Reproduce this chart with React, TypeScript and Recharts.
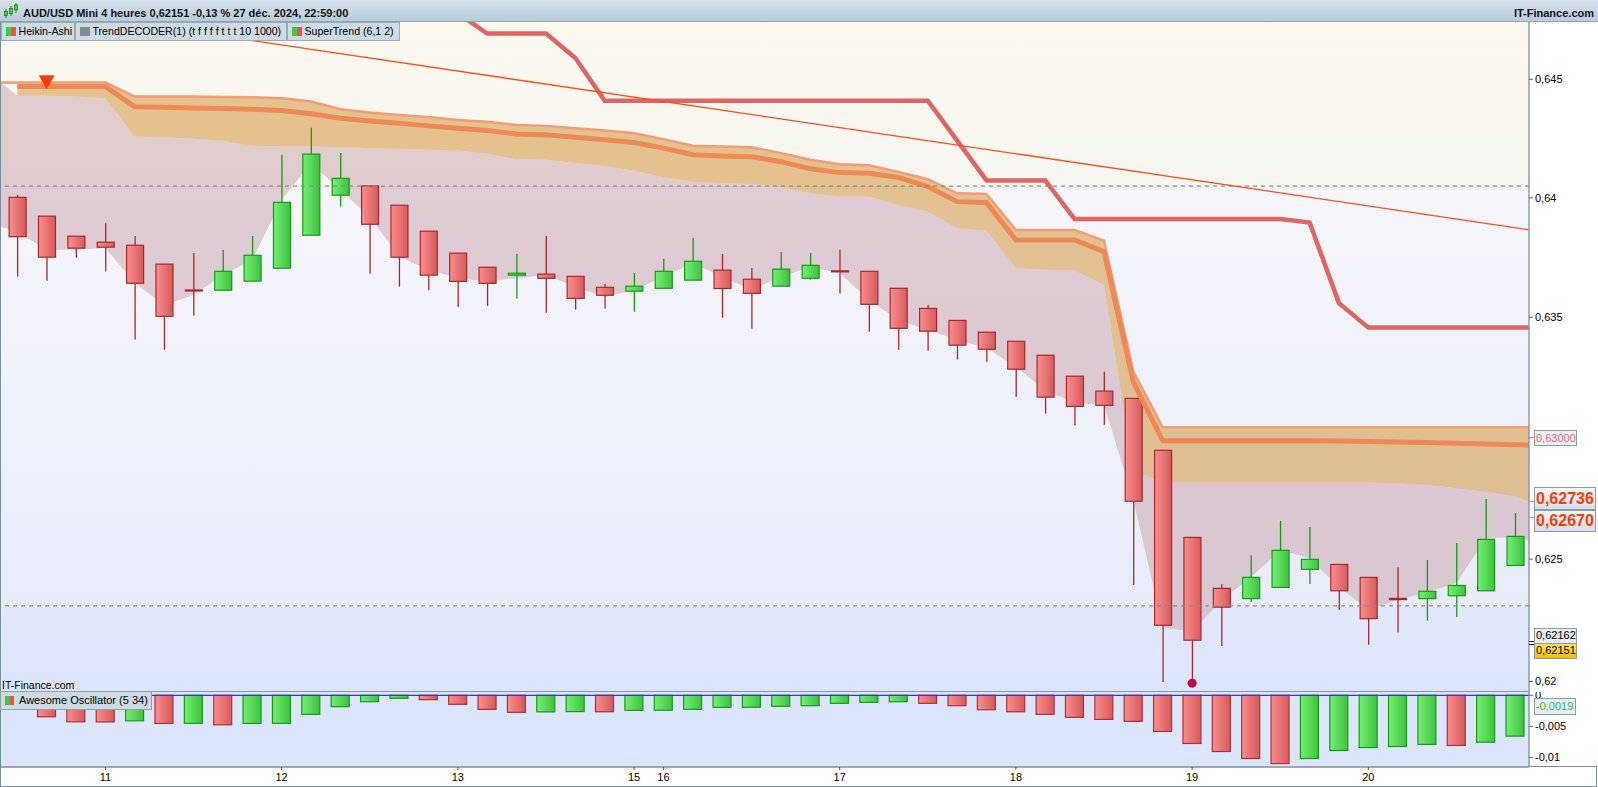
import React from "react";
import {
  Area,
  Bar,
  ComposedChart,
  Line,
  ReferenceDot,
  ReferenceLine,
  XAxis,
  YAxis,
} from "recharts";

// slot 0 is the bar just off the left edge, the last slot just off the right edge
const FIRST_INDEX = -1;

const HA_OPEN = [
  null,
  0.64002, 0.63923, 0.63839, 0.63814, 0.63801, 0.63722, 0.63614, 0.63613, 0.63651, 0.63705,
  0.63843, 0.64011, 0.6405, 0.63969, 0.6386, 0.63768, 0.63709, 0.63676, 0.6368, 0.63671,
  0.63625, 0.63609, 0.63621, 0.63655, 0.63697, 0.63659, 0.6363, 0.63663, 0.63694, 0.63692,
  0.63621, 0.63537, 0.63487, 0.63438, 0.634, 0.63342, 0.63255, 0.63193, 0.63163, 0.62948,
  0.62589, 0.6238, 0.62338, 0.62384, 0.62458, 0.62478, 0.62425, 0.62339, 0.62338, 0.6235,
  0.6237, 0.62474,
  null,
];
const HA_CLOSE = [
  null,
  0.63837, 0.63751, 0.63789, 0.63793, 0.63642, 0.63504, 0.63611, 0.63692, 0.63759, 0.63981,
  0.64184, 0.64082, 0.63889, 0.63751, 0.63676, 0.6365, 0.63642, 0.63684, 0.63663, 0.63579,
  0.63592, 0.6363, 0.63692, 0.63734, 0.6362, 0.636, 0.63701, 0.63717, 0.63691, 0.63554,
  0.63454, 0.63442, 0.63384, 0.63367, 0.63284, 0.63168, 0.6313, 0.63134, 0.62738, 0.62229,
  0.62168, 0.62303, 0.62425, 0.62536, 0.62499, 0.6237, 0.62256, 0.62334, 0.62368, 0.62392,
  0.62581, 0.62593,
  null,
];
const HA_HIGH = [
  null,
  0.64012, 0.63923, 0.63839, 0.63893, 0.6384, 0.63722, 0.63769, 0.63782, 0.6384, 0.64181,
  0.64295, 0.64189, 0.6405, 0.63969, 0.6386, 0.63768, 0.63709, 0.63765, 0.6384, 0.63671,
  0.63639, 0.63685, 0.63744, 0.63832, 0.63765, 0.63706, 0.63773, 0.63769, 0.63782, 0.63692,
  0.63621, 0.63551, 0.63487, 0.63438, 0.634, 0.63342, 0.63255, 0.63273, 0.63163, 0.62948,
  0.62589, 0.62397, 0.62516, 0.62657, 0.62632, 0.62478, 0.62425, 0.62467, 0.62496, 0.62566,
  0.62747, 0.62689,
  null,
];
const HA_LOW = [
  null,
  0.6367, 0.63653, 0.63749, 0.63691, 0.63407, 0.63365, 0.63507, 0.63613, 0.63651, 0.63705,
  0.63843, 0.63963, 0.63682, 0.63628, 0.63613, 0.63544, 0.63548, 0.63578, 0.63519, 0.63532,
  0.63536, 0.63523, 0.63621, 0.63655, 0.63498, 0.63453, 0.6363, 0.63657, 0.63599, 0.6344,
  0.63365, 0.63361, 0.63324, 0.63315, 0.6317, 0.631, 0.6305, 0.63054, 0.62394, 0.61998,
  0.62005, 0.62144, 0.62325, 0.62384, 0.62398, 0.62292, 0.62149, 0.62199, 0.62248, 0.62263,
  0.6237, 0.62474,
  null,
];

// TrendDECODER band
const BAND_TOP = [
  0.64486,
  0.64486, 0.64486, 0.64486, 0.64486, 0.64427, 0.64427, 0.64427, 0.64425, 0.64424, 0.6442,
  0.64406, 0.64373, 0.64359, 0.64349, 0.6434, 0.64328, 0.6432, 0.64307, 0.64303, 0.64293,
  0.64283, 0.64272, 0.64247, 0.64219, 0.64216, 0.64213, 0.64188, 0.6416, 0.64141, 0.64137,
  0.64109, 0.64078, 0.64019, 0.64016, 0.63865, 0.63865, 0.63865, 0.6382, 0.63274, 0.63043,
  0.63043, 0.63043, 0.63043, 0.63043, 0.63043, 0.63043, 0.63043, 0.63043, 0.63043, 0.63043,
  0.63043, 0.63043,
  0.63043,
];
const BAND_MID = [
  null,
  0.64469, 0.64469, 0.64469, 0.64469, 0.64384, 0.64382, 0.64379, 0.64376, 0.64373, 0.64368,
  0.64354, 0.64335, 0.64324, 0.64314, 0.64303, 0.64293, 0.64283, 0.64269, 0.64265, 0.64255,
  0.64244, 0.64233, 0.64209, 0.64181, 0.64176, 0.64173, 0.64152, 0.64122, 0.64106, 0.64103,
  0.64086, 0.64047, 0.63984, 0.6398, 0.63823, 0.63823, 0.63823, 0.63774, 0.6323, 0.62987,
  0.62987, 0.62987, 0.62987, 0.62987, 0.62987, 0.62986, 0.62984, 0.62982, 0.6298, 0.62977,
  0.62974, 0.62971,
  0.62967,
];
const BAND_BASE = [
  0.64529,
  0.6443, 0.6443, 0.64427, 0.6442, 0.64258, 0.64255, 0.64249, 0.6424, 0.64219, 0.64216,
  0.64216, 0.64213, 0.6421, 0.64207, 0.64202, 0.64199, 0.64185, 0.64162, 0.6416, 0.64146,
  0.64134, 0.64114, 0.64087, 0.64068, 0.64061, 0.64058, 0.64044, 0.64019, 0.64005, 0.64005,
  0.6397, 0.63942, 0.63872, 0.63862, 0.63705, 0.63698, 0.63695, 0.63635, 0.62867, 0.62814,
  0.62814, 0.62814, 0.62814, 0.62814, 0.62814, 0.62814, 0.62814, 0.62812, 0.62805, 0.62791,
  0.62777, 0.62757,
  0.62712,
];
const CLOUD_LOW = [
  0.63895,
  0.63857, 0.63782, 0.63782, 0.6379, 0.63643, 0.63551, 0.63593, 0.63677, 0.6374, 0.63991,
  0.64146, 0.64033, 0.63921, 0.63754, 0.63698, 0.63664, 0.63648, 0.63664, 0.63677, 0.63627,
  0.63585, 0.63614, 0.63669, 0.63727, 0.63669, 0.63614, 0.63669, 0.6371, 0.63685, 0.63572,
  0.63489, 0.63447, 0.63406, 0.63372, 0.63293, 0.63198, 0.63144, 0.63136, 0.62743, 0.62222,
  0.62202, 0.62332, 0.62426, 0.62537, 0.62504, 0.62386, 0.62292, 0.62332, 0.62365, 0.62402,
  0.62586, 0.62591,
  0.62557,
];

const SUPERTREND = [
  null,
  null, null, null, null, null, null, null, null, null, null,
  null, null, null, null, null, 0.6478, 0.64694, 0.64694, 0.64694, 0.6459,
  0.64409, 0.64409, 0.64409, 0.64409, 0.64409, 0.64409, 0.64409, 0.64409, 0.64409, 0.64409,
  0.64409, 0.64409, 0.64241, 0.64073, 0.64073, 0.64073, 0.63911, 0.63911, 0.63911, 0.63911,
  0.63911, 0.63911, 0.63911, 0.63911, 0.63896, 0.63559, 0.63457, 0.63457, 0.63457, 0.63457,
  0.63457, 0.63457,
  0.63457,
];

// Awesome Oscillator (5 34)
const AO_VALUES = [
  null,
  -0.0021, -0.00345, -0.00426, -0.00428, -0.0041, -0.00452, -0.0045, -0.00474, -0.00452, -0.0045,
  -0.00306, -0.00183, -0.00103, -0.00048, -0.0007, -0.00145, -0.00226, -0.00274, -0.00266, -0.00262,
  -0.00264, -0.00242, -0.0024, -0.00226, -0.00194, -0.00192, -0.00177, -0.00167, -0.00129, -0.00113,
  -0.00103, -0.00129, -0.00167, -0.00232, -0.00264, -0.00306, -0.00355, -0.00387, -0.00419, -0.00581,
  -0.00774, -0.00903, -0.01016, -0.01097, -0.01016, -0.00887, -0.00839, -0.00823, -0.0079, -0.00806,
  -0.00753, -0.00656,
  null,
];
const AO_TONE = [
  null,
  "R", "R", "R", "R", "G", "R", "G", "R", "G", "G",
  "G", "G", "G", "G", "R", "R", "R", "R", "G", "G",
  "R", "G", "G", "G", "G", "G", "G", "G", "G", "G",
  "G", "R", "R", "R", "R", "R", "R", "R", "R", "R",
  "R", "R", "R", "R", "G", "G", "G", "G", "G", "R",
  "G", "G",
  null,
];

const PRICE_TICKS = [0.62, 0.625, 0.63, 0.635, 0.64, 0.645];
const AO_TICKS = [0, -0.005, -0.01];
const X_TICKS = [3, 9, 15, 21, 22, 28, 34, 40, 46];
const X_TICK_LABELS = ["11", "12", "13", "15", "16", "17", "18", "19", "20"];
const ZONE_LEVELS = [0.64049, 0.62308];
const TREND_START = { i: 4, price: 0.64738 };
const TREND_END = { i: 51.46, price: 0.63866 };
const SELL_SIGNALS = [{ i: 1, price: 0.645 }];
const LOW_SIGNALS = [{ i: 40, price: 0.61993 }];

const X_DOMAIN: [number, number] = [-0.555, 51.47];
const PRICE_DOMAIN: [number, number] = [0.61957, 0.64743];
const AO_DOMAIN: [number, number] = [-0.01152, 0.00053];

const rows = HA_OPEN.map((open, k) => ({
  i: k + FIRST_INDEX,
  open,
  close: HA_CLOSE[k],
  high: HA_HIGH[k],
  low: HA_LOW[k],
  range: open == null ? null : [HA_LOW[k], HA_HIGH[k]],
  tan: BAND_MID[k] == null ? null : [BAND_BASE[k], BAND_TOP[k]],
  cloud: [CLOUD_LOW[k], BAND_BASE[k]],
  top: BAND_TOP[k],
  mid: BAND_MID[k],
  st: SUPERTREND[k],
  ao: AO_VALUES[k],
  tone: AO_TONE[k],
}));

const FONT = '"Liberation Sans", Arial, sans-serif';
const fmt = (v: number) => String(v).replace(".", ",");

function CandleShape(props: any) {
  const { x, y, width, height, payload } = props;
  if (!payload || payload.open == null) return null;
  const { open, close, high, low } = payload;
  const top = Math.min(y, y + height);
  const span = Math.abs(height);
  const lnH = Math.log(high);
  const lnL = Math.log(low);
  // the price axis is logarithmic, so place open/close in log space
  const toY = (v: number) =>
    lnH === lnL ? top : top + (span * (lnH - Math.log(v))) / (lnH - lnL);
  const up = close > open;
  const cx = x + width / 2;
  const bodyTop = toY(Math.max(open, close));
  const bodyBot = toY(Math.min(open, close));
  const stroke = up ? "#169a16" : "#a8282a";
  return (
    <g>
      <line x1={cx} x2={cx} y1={top} y2={top + span} stroke={stroke} strokeWidth={1.3} />
      <rect
        x={x + 0.5}
        y={bodyTop}
        width={width - 1}
        height={Math.max(bodyBot - bodyTop, 1)}
        fill={up ? "url(#haGreen)" : "url(#haRed)"}
        stroke={stroke}
        strokeWidth={1.2}
      />
    </g>
  );
}

function AoShape(props: any) {
  const { x, y, width, height, payload } = props;
  if (!payload || payload.ao == null) return null;
  const top = Math.min(y, y + height);
  const up = payload.tone === "G";
  return (
    <rect
      x={x + 0.5}
      y={top}
      width={width - 1}
      height={Math.abs(height)}
      fill={up ? "url(#aoGreen)" : "url(#aoRed)"}
      stroke={up ? "#169a16" : "#b03034"}
      strokeWidth={1.2}
    />
  );
}

function SellMarker(props: any) {
  const { cx, cy } = props;
  return (
    <polygon
      points={`${cx - 8},${cy - 4} ${cx + 8},${cy - 4} ${cx},${cy + 10}`}
      fill="#ff3d00"
    />
  );
}

const box = (extra: React.CSSProperties): React.CSSProperties => ({
  position: "absolute",
  boxSizing: "border-box",
  border: "1px solid #8a9bab",
  fontFamily: FONT,
  whiteSpace: "nowrap",
  ...extra,
});

function LegendIcon({ left, right }: { left: string; right: string }) {
  return (
    <span
      style={{
        position: "absolute",
        left: 4,
        top: 4,
        width: 10,
        height: 9,
        background: `linear-gradient(to right, ${left} 50%, ${right} 50%)`,
      }}
    />
  );
}

function Tag({ left, width, text, icon }: { left: number; width: number; text: string; icon: React.ReactNode }) {
  return (
    <div
      style={box({
        left,
        top: 22,
        width,
        height: 19,
        background: "#cddbe4",
        border: "1px solid #9aabb7",
        fontSize: 10.6,
        lineHeight: "17px",
        paddingLeft: 16.5,
        color: "#000",
      })}
    >
      {icon}
      {text}
    </div>
  );
}

export default function App() {
  const axisTick = { fontSize: 11, fill: "#000", fontFamily: FONT };
  return (
    <div
      style={{
        position: "relative",
        width: 1598,
        height: 787,
        background: "#fff",
        overflow: "hidden",
        fontFamily: FONT,
      }}
    >
      <style>{"body{margin:0}"}</style>
      <svg width={0} height={0} style={{ position: "absolute" }}>
        <defs>
          <linearGradient id="haRed" x1="0" y1="0" x2="1" y2="0">
            <stop offset="0%" stopColor="#fb8e8e" />
            <stop offset="100%" stopColor="#d55a5c" />
          </linearGradient>
          <linearGradient id="haGreen" x1="0" y1="0" x2="1" y2="0">
            <stop offset="0%" stopColor="#74ef74" />
            <stop offset="100%" stopColor="#3ec23e" />
          </linearGradient>
          <linearGradient id="aoRed" x1="0" y1="0" x2="1" y2="0">
            <stop offset="0%" stopColor="#fb8e8e" />
            <stop offset="100%" stopColor="#d55a5c" />
          </linearGradient>
          <linearGradient id="aoGreen" x1="0" y1="0" x2="1" y2="0">
            <stop offset="0%" stopColor="#74ef74" />
            <stop offset="100%" stopColor="#3ec23e" />
          </linearGradient>
        </defs>
      </svg>

      {/* panel backgrounds */}
      <div
        style={{
          position: "absolute",
          left: 1,
          top: 22,
          width: 1528,
          height: 670,
          background:
            "linear-gradient(to bottom, #fcf9ef 0%, #f7f6f1 24.4%, #f6f6fb 24.5%, #e8ecf9 87.2%, #e3e8fb 87.3%, #dce4fc 100%)",
        }}
      />
      <div style={{ position: "absolute", left: 1, top: 692, width: 1528, height: 75, background: "#dbe5fc" }} />

      <div style={{ position: "absolute", left: 0, top: 22 }}>
        <ComposedChart width={1598} height={670} data={rows} margin={{ top: 0, right: 0, bottom: 0, left: 1 }}>
          <XAxis dataKey="i" type="number" domain={X_DOMAIN} allowDataOverflow hide />
          <YAxis
            orientation="right"
            width={69}
            scale="log"
            domain={PRICE_DOMAIN}
            allowDataOverflow
            ticks={PRICE_TICKS}
            interval={0}
            tickFormatter={fmt}
            tick={axisTick}
            tickSize={4}
            tickMargin={2}
            axisLine={{ stroke: "#7f8f9c", strokeWidth: 1.3 }}
            tickLine={{ stroke: "#666" }}
          />
          <Area dataKey="cloud" type="linear" stroke="none" fill="rgba(200,160,170,0.5)" fillOpacity={1} isAnimationActive={false} />
          <Area dataKey="tan" type="linear" stroke="none" fill="rgba(214,150,62,0.55)" fillOpacity={1} isAnimationActive={false} />
          <Line dataKey="top" type="linear" stroke="#f39c76" strokeWidth={2.5} dot={false} isAnimationActive={false} />
          <Line dataKey="mid" type="linear" stroke="#ec8955" strokeWidth={5} dot={false} isAnimationActive={false} />
          {ZONE_LEVELS.map((lvl) => (
            <ReferenceLine key={lvl} y={lvl} stroke="#8a8a8a" strokeWidth={1.2} strokeDasharray="4 4" />
          ))}
          <Line dataKey="st" type="linear" stroke="#df6464" strokeWidth={4.5} dot={false} isAnimationActive={false} />
          <ReferenceLine
            segment={[
              { x: TREND_START.i, y: TREND_START.price },
              { x: TREND_END.i, y: TREND_END.price },
            ]}
            stroke="#ff4d1a"
            strokeWidth={1.3}
            ifOverflow="visible"
          />
          <Bar dataKey="range" barSize={18} shape={(p: any) => <CandleShape {...p} />} isAnimationActive={false} />
          {SELL_SIGNALS.map((s) => (
            <ReferenceDot key={s.i} x={s.i} y={s.price} r={8} shape={(p: any) => <SellMarker {...p} />} />
          ))}
          {LOW_SIGNALS.map((s) => (
            <ReferenceDot key={s.i} x={s.i} y={s.price} r={4.5} fill="#c2004e" stroke="none" />
          ))}
        </ComposedChart>
      </div>

      <div style={{ position: "absolute", left: 0, top: 692 }}>
        <ComposedChart width={1598} height={95} data={rows} margin={{ top: 0, right: 0, bottom: 0, left: 1 }}>
          <XAxis
            dataKey="i"
            type="number"
            domain={X_DOMAIN}
            allowDataOverflow
            ticks={X_TICKS}
            interval={0}
            tickFormatter={(v: number) => X_TICK_LABELS[X_TICKS.indexOf(v)]}
            height={20}
            tickSize={3}
            tickMargin={3}
            tick={axisTick}
            axisLine={{ stroke: "#7f8f9c", strokeWidth: 1.3 }}
            tickLine={{ stroke: "#555" }}
          />
          <YAxis
            orientation="right"
            width={69}
            domain={AO_DOMAIN}
            allowDataOverflow
            ticks={AO_TICKS}
            interval={0}
            tickFormatter={fmt}
            tick={axisTick}
            tickSize={4}
            tickMargin={2}
            axisLine={{ stroke: "#7f8f9c", strokeWidth: 1.3 }}
            tickLine={{ stroke: "#666" }}
          />
          <Bar dataKey="ao" barSize={19} shape={(p: any) => <AoShape {...p} />} isAnimationActive={false} />
          <ReferenceLine y={0} stroke="#3434c8" strokeWidth={1.3} />
        </ComposedChart>
      </div>

      {/* frame lines */}
      <div style={{ position: "absolute", left: 0, top: 22, width: 1, height: 765, background: "#7d8f9d" }} />
      <div style={{ position: "absolute", left: 0, top: 691, width: 1529, height: 1, background: "#8797a5" }} />
      <div style={{ position: "absolute", left: 1529, top: 766, width: 68, height: 1, background: "#7f8f9c" }} />
      <div style={{ position: "absolute", left: 1596, top: 766, width: 1, height: 21, background: "#7f8f9c" }} />
      <div style={{ position: "absolute", left: 0, top: 786, width: 1597, height: 1, background: "#7f8f9c" }} />

      {/* header */}
      <div
        style={{
          position: "absolute",
          left: 0,
          top: 0,
          width: 1598,
          height: 22,
          boxSizing: "border-box",
          background: "linear-gradient(to bottom, #d7e4ed, #b8ccd9)",
          borderBottom: "1px solid #8fa3b2",
        }}
      >
        <svg width={14} height={16} style={{ position: "absolute", left: 4, top: 3 }}>
          <line x1={2} y1={6} x2={2} y2={15} stroke="#1b7f1b" strokeWidth={1} />
          <rect x={0.5} y={8.5} width={3} height={4} fill="#4ccf4c" stroke="#1b7f1b" strokeWidth={0.8} />
          <line x1={7} y1={3} x2={7} y2={13} stroke="#1b7f1b" strokeWidth={1} />
          <rect x={5.5} y={5.5} width={3} height={5} fill="#4ccf4c" stroke="#1b7f1b" strokeWidth={0.8} />
          <line x1={12} y1={0} x2={12} y2={10} stroke="#1b7f1b" strokeWidth={1} />
          <rect x={10.5} y={2} width={3} height={5} fill="#4ccf4c" stroke="#1b7f1b" strokeWidth={0.8} />
        </svg>
        <div style={{ position: "absolute", left: 23, top: 7, fontSize: 11, fontWeight: "bold", lineHeight: "13px", color: "#111", whiteSpace: "nowrap" }}>
          AUD/USD Mini 4 heures 0,62151 -0,13 % 27 déc. 2024, 22:59:00
        </div>
        <div style={{ position: "absolute", right: 4, top: 7, fontSize: 11, fontWeight: "bold", lineHeight: "13px", color: "#111" }}>
          IT-Finance.com
        </div>
      </div>

      <Tag left={1} width={74} text="Heikin-Ashi" icon={<LegendIcon left="#3dcc3d" right="#ee5050" />} />
      <Tag left={75} width={212} text="TrendDECODER(1) (t f f f f t t t 10 1000)" icon={<LegendIcon left="#7a8c98" right="#7a8c98" />} />
      <Tag left={287} width={113} text="SuperTrend (6,1 2)" icon={<LegendIcon left="#3dcc3d" right="#ee5050" />} />

      <div style={{ position: "absolute", left: 2, top: 679, fontSize: 10.5, lineHeight: "12.5px", color: "#000" }}>IT-Finance.com</div>
      <div
        style={box({
          left: 0,
          top: 691,
          width: 152,
          height: 19,
          background: "#cfdbe3",
          border: "1px solid #8fa0ad",
          fontSize: 11,
          lineHeight: "17px",
          paddingLeft: 18,
        })}
      >
        <span style={{ position: "absolute", left: 4, top: 4, width: 9, height: 9, background: "linear-gradient(to right, #3dcc3d 50%, #ee5050 50%)" }} />
        Awesome Oscillator (5 34)
      </div>

      {/* price tags on the right axis */}
      {[437.7, 501, 517].map((t) => (
        <div key={t} style={{ position: "absolute", left: 1529, top: t - 0.5, width: 5, height: 1, background: "#ee8a8a" }} />
      ))}
      {[641.7, 644.4].map((t) => (
        <div key={t} style={{ position: "absolute", left: 1529, top: t - 0.5, width: 5, height: 1, background: "#222" }} />
      ))}
      <div style={box({ left: 1534, top: 430, width: 43, height: 16, background: "#eaeff7", color: "#e46f6f", fontSize: 11, lineHeight: "14px", paddingLeft: 1 })}>0,63000</div>
      <div style={box({ left: 1534, top: 487, width: 62, height: 23, background: "linear-gradient(to bottom, #f6f9fd, #d5dfee)", color: "#ff3c00", fontSize: 16, fontWeight: "bold", lineHeight: "21px", paddingLeft: 1 })}>0,62736</div>
      <div style={box({ left: 1534, top: 510, width: 62, height: 22, background: "linear-gradient(to bottom, #f6f9fd, #d5dfee)", color: "#ff3c00", fontSize: 16, fontWeight: "bold", lineHeight: "20px", paddingLeft: 1 })}>0,62670</div>
      <div style={box({ left: 1534, top: 628, width: 43, height: 15.5, background: "#e7edf6", color: "#000", fontSize: 11, lineHeight: "13.5px", paddingLeft: 1 })}>0,62162</div>
      <div style={box({ left: 1534, top: 643, width: 43, height: 15.5, background: "linear-gradient(to bottom, #ffe34f, #f0c000)", color: "#000", fontSize: 11, lineHeight: "13.5px", paddingLeft: 1 })}>0,62151</div>
      <div style={box({ left: 1534, top: 698, width: 42, height: 16.5, background: "#e9eef6", color: "#3dbb3d", fontSize: 11, lineHeight: "14.5px", paddingLeft: 1 })}>-0,0019</div>
    </div>
  );
}
